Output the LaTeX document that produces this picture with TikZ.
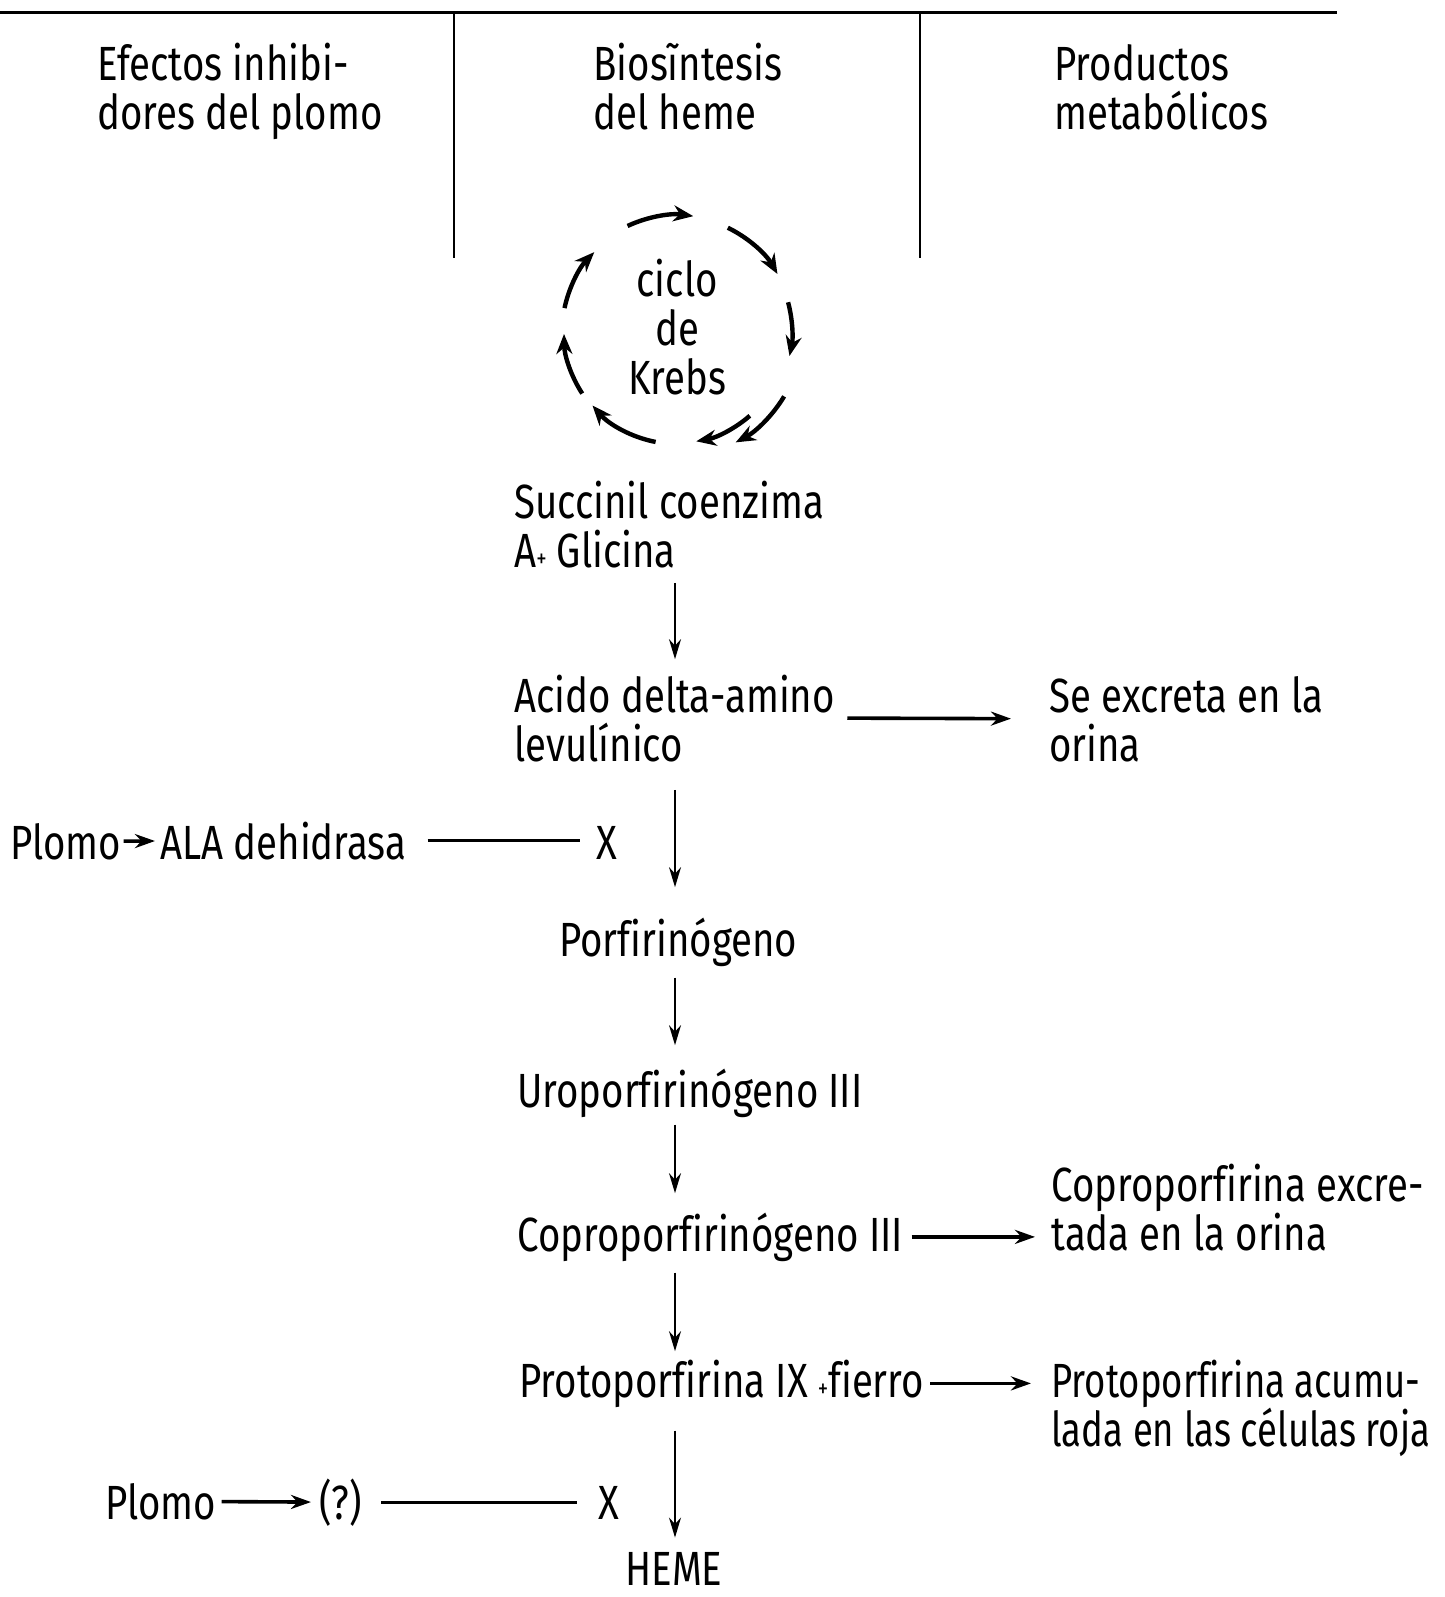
\documentclass[tikz,border=0pt]{standalone}
\usepackage{fontspec}
\setmainfont[FakeStretch=0.8, Ligatures=NoCommon]{Fira Sans}
\newfontfamily\estrecha[FakeStretch=0.76, Ligatures=NoCommon]{Fira Sans}
\usetikzlibrary{arrows.meta}

\begin{document}
\begin{tikzpicture}[x=0.5pt, y=0.5pt,
        every node/.style = {inner sep=0pt, anchor=base west, align=left,
            font=\fontsize{24}{24.5}\selectfont},
        flecha/.style = {-{Stealth[length=10pt, width=6pt]}, line width=0.9pt},
        lateral/.style = {-{Stealth[length=10pt, width=7pt]}, line width=1.8pt},
        ciclo/.style = {-{Stealth[length=10pt, width=8pt]}, line width=2.2pt},
        bloqueo/.style = {line width=1.3pt}]
    \useasboundingbox (0,0) rectangle (1445,-1597);
    % encabezado de columnas
    \draw[line width=1.5pt] (0,-12) -- (1337,-12);
    \draw[line width=1pt] (454,-12) -- (454,-258);
    \draw[line width=1pt] (920,-12) -- (920,-258);
    \node (col1) at (97,-129) {Efectos inhibi-\\dores del plomo};
    \node (col2) at (593,-129) {Biosĩntesis\\del heme};
    \node (col3) at (1054,-129) {Productos\\metabólicos};
    % ciclo de Krebs
    \coordinate (kc) at (677,-332);
    \node[anchor=base, align=center] (krebs) at (677,-394) {ciclo\\de\\Krebs};
    \foreach \a/\b/\r in {115/82/117, 64/30/116, 15/-12/115, -31/-62/125,
            -49/-80/111, -101/-139/112, -147/-179/113, 168/136/115}
        \draw[ciclo] (kc) ++(\a:\r) arc[start angle=\a, end angle=\b, radius=\r];
    % biosintesis
    \coordinate (eje) at (675,0);
    \node (suc) at (514,-567) {Succinil coenzima\\A{\fontsize{13}{13}\selectfont+} Glicina};
    \node (ala) at (514,-761) {Acido delta-amino\\levulínico};
    \node (por) at (559,-956) {Porfirinógeno};
    \node (uro) at (517,-1107) {Uroporfirinógeno III};
    \node (cop) at (517,-1251) {Coproporfirinógeno III};
    \node (pro) at (519,-1397) {Protoporfirina IX {\fontsize{13}{13}\selectfont+}fierro};
    \node[anchor=base] (heme) at (674,-1585) {HEME};
    \draw[flecha, shorten <=7.5pt, shorten >=7.5pt] (suc.south -| eje) -- (ala.north -| eje);
    \draw[flecha, shorten <=14pt, shorten >=15pt] (ala.south -| eje) -- (por.north -| eje);
    \draw[flecha, shorten <=5.5pt, shorten >=11.5pt] (por.south -| eje) -- (uro.north -| eje);
    \draw[flecha, shorten <=3.5pt, shorten >=9.5pt] (uro.south -| eje) -- (cop.north -| eje);
    \draw[flecha, shorten <=5.5pt, shorten >=4pt] (cop.south -| eje) -- (pro.north -| eje);
    \draw[flecha, shorten <=11.5pt, shorten >=7pt] (pro.south -| eje) -- (heme.north -| eje);
    % productos
    \node (exc) at (1049,-761) {Se excreta en la\\orina};
    \node (cexc) at (1051,-1250) {Coproporfirina excre-\\tada en la orina};
    \node[font=\estrecha\fontsize{24}{24.5}\selectfont] (acu) at (1051,-1446)
        {Protoporfirina acumu-\\lada en las células roja};
    \draw[lateral, shorten <=6pt, shorten >=19pt] (ala.east) -- (exc.west);
    \draw[lateral, shorten <=4pt, shorten >=8pt] (cop.east) -- (cop.east -| cexc.west);
    \draw[lateral, shorten <=3pt, shorten >=10pt] (pro.east) -- (pro.east -| acu.west);
    % efectos del plomo
    \node (plomoa) at (10,-859) {Plomo};
    \node (deh) at (160,-859) {ALA dehidrasa};
    \node (xa) at (596,-859) {X};
    \node (plomob) at (105,-1519) {Plomo};
    \node (inc) at (319,-1519) {(?)};
    \node (xb) at (598,-1519) {X};
    \draw[lateral, shorten <=1pt, shorten >=2.5pt] (plomoa) -- (deh);
    \draw[bloqueo, shorten <=10.5pt, shorten >=8pt] (deh.east) -- (deh.east -| xa.west);
    \draw[lateral, shorten <=2.5pt, shorten >=4pt] (plomob) -- (inc);
    \draw[bloqueo, shorten <=9.5pt, shorten >=10.5pt] (inc.east) -- (inc.east -| xb.west);
\end{tikzpicture}
\end{document}
